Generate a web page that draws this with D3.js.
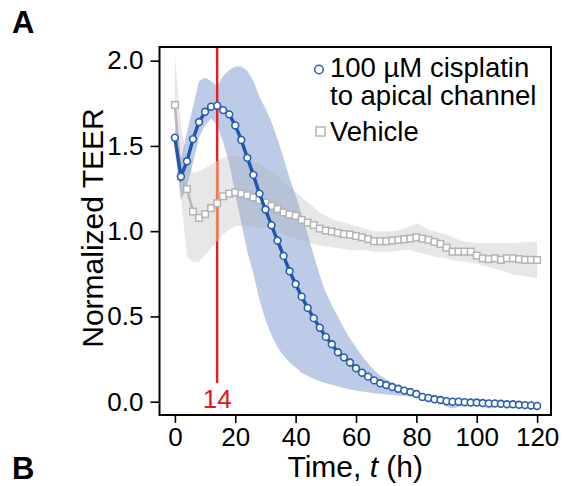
<!DOCTYPE html>
<html><head><meta charset="utf-8">
<script src="https://cdn.jsdelivr.net/npm/d3@7"></script>
<style>body{margin:0;background:#fff} svg{display:block}</style>
</head><body><svg id="chart" width="563" height="486"></svg>
<script>
// ---- data ----
const times = [0,2,4,6,8,10,12,14,16,18,20,22,24,26,28,30,32,34,36,38,40,42,44,46,48,50,52,54,56,58,60,
  62,64,66,68,70,72,74,76,78,80,82,84,86,88,90,92,94,96,98,100,102,104,106,108,110,112,114,116,118,120];

const cisplatinMean = [1.548,1.32,1.41,1.54,1.64,1.70,1.73,1.736,
  1.71,1.685,1.62,1.535,1.43,1.33,1.22,1.127,
  1.035,0.945,0.855,0.765,0.69,0.616,0.55,0.49,
  0.434,0.38,0.337,0.29,0.26,0.23,0.196,0.17,
  0.147,0.125,0.108,0.098,0.086,0.076,0.065,0.057,
  0.045,0.028,0.022,0.014,0.01,0.003,0.0,0.0,
  -0.003,-0.005,-0.005,-0.008,-0.01,-0.01,-0.012,-0.015,
  -0.015,-0.018,-0.02,-0.022,-0.025];
const cisplatinUpper = [1.60,1.42,1.58,1.73,1.88,1.90,1.88,1.85,
  1.91,1.945,1.965,1.965,1.94,1.88,1.79,1.72,
  1.64,1.54,1.43,1.31,1.21,1.10,0.98,0.86,
  0.74,0.64,0.565,0.50,0.43,0.37,0.32,0.27,
  0.225,0.185,0.155,0.13,0.11,0.095,0.08,0.07,
  0.058,0.048,0.04,0.035,0.03,0.018,0.012,0.01,
  0.008,0.005,0.005,0.0,0.0,-0.002,-0.003,-0.005,
  -0.005,-0.008,-0.01,-0.012,-0.015];
const cisplatinLower = [1.50,1.18,1.26,1.40,1.55,1.62,1.66,1.62,
  1.52,1.40,1.22,1.05,0.88,0.75,0.60,0.48,
  0.39,0.32,0.27,0.23,0.20,0.17,0.15,0.135,
  0.12,0.11,0.10,0.09,0.08,0.072,0.065,0.06,
  0.055,0.05,0.046,0.042,0.04,0.037,0.034,0.03,
  0.025,0.018,0.01,0.0,-0.01,-0.03,-0.04,-0.03,
  -0.02,-0.02,-0.025,-0.03,-0.04,-0.035,-0.03,-0.03,
  -0.03,-0.032,-0.035,-0.035,-0.035];

const vehicleMean = [1.74,1.32,1.247,1.115,1.078,1.10,1.135,1.164,
  1.205,1.22,1.228,1.22,1.21,1.198,1.183,1.167,
  1.148,1.13,1.11,1.098,1.09,1.066,1.05,1.036,
  1.015,1.004,0.998,0.99,0.983,0.98,0.972,0.964,
  0.953,0.941,0.941,0.941,0.945,0.949,0.953,0.957,
  0.964,0.957,0.949,0.937,0.925,0.903,0.88,0.88,
  0.88,0.88,0.857,0.841,0.836,0.841,0.832,0.841,
  0.841,0.836,0.832,0.832,0.831];
const vehicleUpper = [2.04,1.62,1.42,1.34,1.35,1.37,1.39,1.41,
  1.43,1.44,1.44,1.435,1.43,1.41,1.39,1.37,
  1.35,1.32,1.29,1.26,1.23,1.20,1.17,1.14,
  1.11,1.09,1.07,1.06,1.05,1.04,1.03,1.02,
  1.01,1.0,1.0,1.0,1.0,1.005,1.015,1.03,
  1.045,1.03,1.01,1.0,0.99,0.98,0.965,0.95,
  0.94,0.935,0.93,0.93,0.93,0.93,0.93,0.93,
  0.93,0.932,0.935,0.937,0.94];
const vehicleLower = [1.45,1.20,0.85,0.82,0.82,0.86,0.90,0.94,
  0.98,1.01,1.03,1.03,1.03,1.03,1.02,1.02,
  1.01,1.0,0.98,0.965,0.955,0.945,0.935,0.925,
  0.915,0.91,0.905,0.90,0.895,0.89,0.89,0.89,
  0.885,0.88,0.88,0.88,0.88,0.885,0.89,0.89,
  0.88,0.87,0.86,0.85,0.845,0.84,0.83,0.825,
  0.82,0.815,0.81,0.80,0.79,0.78,0.77,0.76,
  0.745,0.74,0.735,0.73,0.725];

const xTicks = [0,20,40,60,80,100,120];
const yTicks = [0.0,0.5,1.0,1.5,2.0];
const eventTime = 14;
const eventLineBottom = 0.11;
const legendLabels = [["100 µM cisplatin","to apical channel"],["Vehicle"]];
const panelLabels = ["A","B"];

// ---- chart ----
const FONT = "'Liberation Sans', Arial, Helvetica, sans-serif";
const svg = d3.select("#chart");
const x = d3.scaleLinear().domain([-5.1,124.6]).range([159.5,551]);
const y = d3.scaleLinear().domain([-0.078,2.08]).range([415,47]);

const BLUE = "#1f55aa", GRAY = "#b8b8b8";

svg.append("clipPath").attr("id","plotclip").append("rect")
  .attr("x",x.range()[0]).attr("y",y.range()[1])
  .attr("width",x.range()[1]-x.range()[0]).attr("height",y.range()[0]-y.range()[1]);
const plot = svg.append("g").attr("clip-path","url(#plotclip)");

const band = (lo,hi) => d3.area().x((d,i)=>x(times[i])).y0((d,i)=>y(lo[i])).y1((d,i)=>y(hi[i]));
const line = (vals) => d3.line().x((d,i)=>x(times[i])).y((d,i)=>y(vals[i]));

plot.append("path").datum(times).attr("d",band(cisplatinLower,cisplatinUpper))
  .attr("fill","#3a6ab8").attr("fill-opacity",0.34);
plot.append("path").datum(times).attr("d",band(vehicleLower,vehicleUpper))
  .attr("fill","#a8a8a8").attr("fill-opacity",0.28);

// event line
plot.append("line").attr("x1",x(eventTime)).attr("x2",x(eventTime))
  .attr("y1",y(eventLineBottom)).attr("y2",y(y.domain()[1]))
  .attr("stroke","#ea1c24").attr("stroke-width",2.4);
const iE = times.indexOf(eventTime);
plot.append("line").attr("x1",x(eventTime)).attr("x2",x(eventTime))
  .attr("y1",y(vehicleLower[iE])).attr("y2",y(vehicleUpper[iE]))
  .attr("stroke","#e8804e").attr("stroke-width",2.4);

// vehicle
plot.append("path").datum(times).attr("d",line(vehicleMean))
  .attr("fill","none").attr("stroke",GRAY).attr("stroke-width",2.6);
const sq = 6.6;
plot.selectAll("rect.v").data(times).join("rect").attr("class","v")
  .attr("x",(d,i)=>x(times[i])-sq/2).attr("y",(d,i)=>y(vehicleMean[i])-sq/2)
  .attr("width",sq).attr("height",sq)
  .attr("fill","#fff").attr("stroke","#b4b4b4").attr("stroke-width",1.5);

// cisplatin
plot.append("path").datum(times).attr("d",line(cisplatinMean))
  .attr("fill","none").attr("stroke",BLUE).attr("stroke-width",3.4);
plot.selectAll("circle.c").data(times).join("circle").attr("class","c")
  .attr("cx",(d,i)=>x(times[i])).attr("cy",(d,i)=>y(cisplatinMean[i])).attr("r",3.4)
  .attr("fill","#fff").attr("stroke","#2a5db5").attr("stroke-width",1.6);

// frame
svg.append("rect").attr("x",x.range()[0]).attr("y",y.range()[1])
  .attr("width",x.range()[1]-x.range()[0]).attr("height",y.range()[0]-y.range()[1])
  .attr("fill","none").attr("stroke","#000").attr("stroke-width",2);

// axes
const xAxis = svg.append("g").attr("transform",`translate(0,${y.range()[0]})`)
  .call(d3.axisBottom(x).tickValues(xTicks).tickFormat(d3.format("d")).tickSize(8).tickPadding(5));
const yAxis = svg.append("g").attr("transform",`translate(${x.range()[0]},0)`)
  .call(d3.axisLeft(y).tickValues(yTicks).tickFormat(d3.format(".1f")).tickSize(9).tickPadding(7));
[xAxis,yAxis].forEach(a=>{
  a.select(".domain").remove();
  a.selectAll(".tick line").attr("stroke","#000").attr("stroke-width",1.6);
  a.selectAll(".tick text").attr("fill","#000").style("font-family",FONT).style("font-size","26px");
});

// axis titles
const xt = svg.append("text").attr("x",(x.range()[0]+x.range()[1])/2).attr("y",477)
  .attr("text-anchor","middle").style("font-family",FONT).style("font-size","30px").attr("fill","#000");
xt.append("tspan").text("Time, ");
xt.append("tspan").attr("font-style","italic").text("t");
xt.append("tspan").text(" (h)");
svg.append("text").attr("transform",`translate(103,228) rotate(-90)`)
  .attr("text-anchor","middle").style("font-family",FONT).style("font-size","30px").attr("fill","#000")
  .text("Normalized TEER");

// event label
svg.append("text").attr("x",x(eventTime)).attr("y",408).attr("text-anchor","middle")
  .style("font-family",FONT).style("font-size","26px").attr("fill","#e8141c").text(String(eventTime));

// legend
const lg = svg.append("g");
lg.append("circle").attr("cx",319).attr("cy",69.5).attr("r",4.3)
  .attr("fill","#fff").attr("stroke","#2a5db5").attr("stroke-width",1.5);
const lt = lg.append("text").attr("x",330).attr("y",77).style("font-family",FONT).style("font-size","27.5px");
lt.append("tspan").attr("x",330).text(legendLabels[0][0]);
lt.append("tspan").attr("x",330).attr("dy",28).text(legendLabels[0][1]);
lg.append("rect").attr("x",316).attr("y",127).attr("width",9).attr("height",9)
  .attr("fill","#fff").attr("stroke","#b4b4b4").attr("stroke-width",1.5);
lg.append("text").attr("x",330).attr("y",141).style("font-family",FONT).style("font-size","27.5px")
  .text(legendLabels[1][0]);

// panel labels
svg.append("text").attr("x",12).attr("y",33).style("font-family",FONT).style("font-size","31px")
  .attr("font-weight","bold").text(panelLabels[0]);
svg.append("text").attr("x",12).attr("y",479).style("font-family",FONT).style("font-size","31px")
  .attr("font-weight","bold").text(panelLabels[1]);
</script></body></html>
